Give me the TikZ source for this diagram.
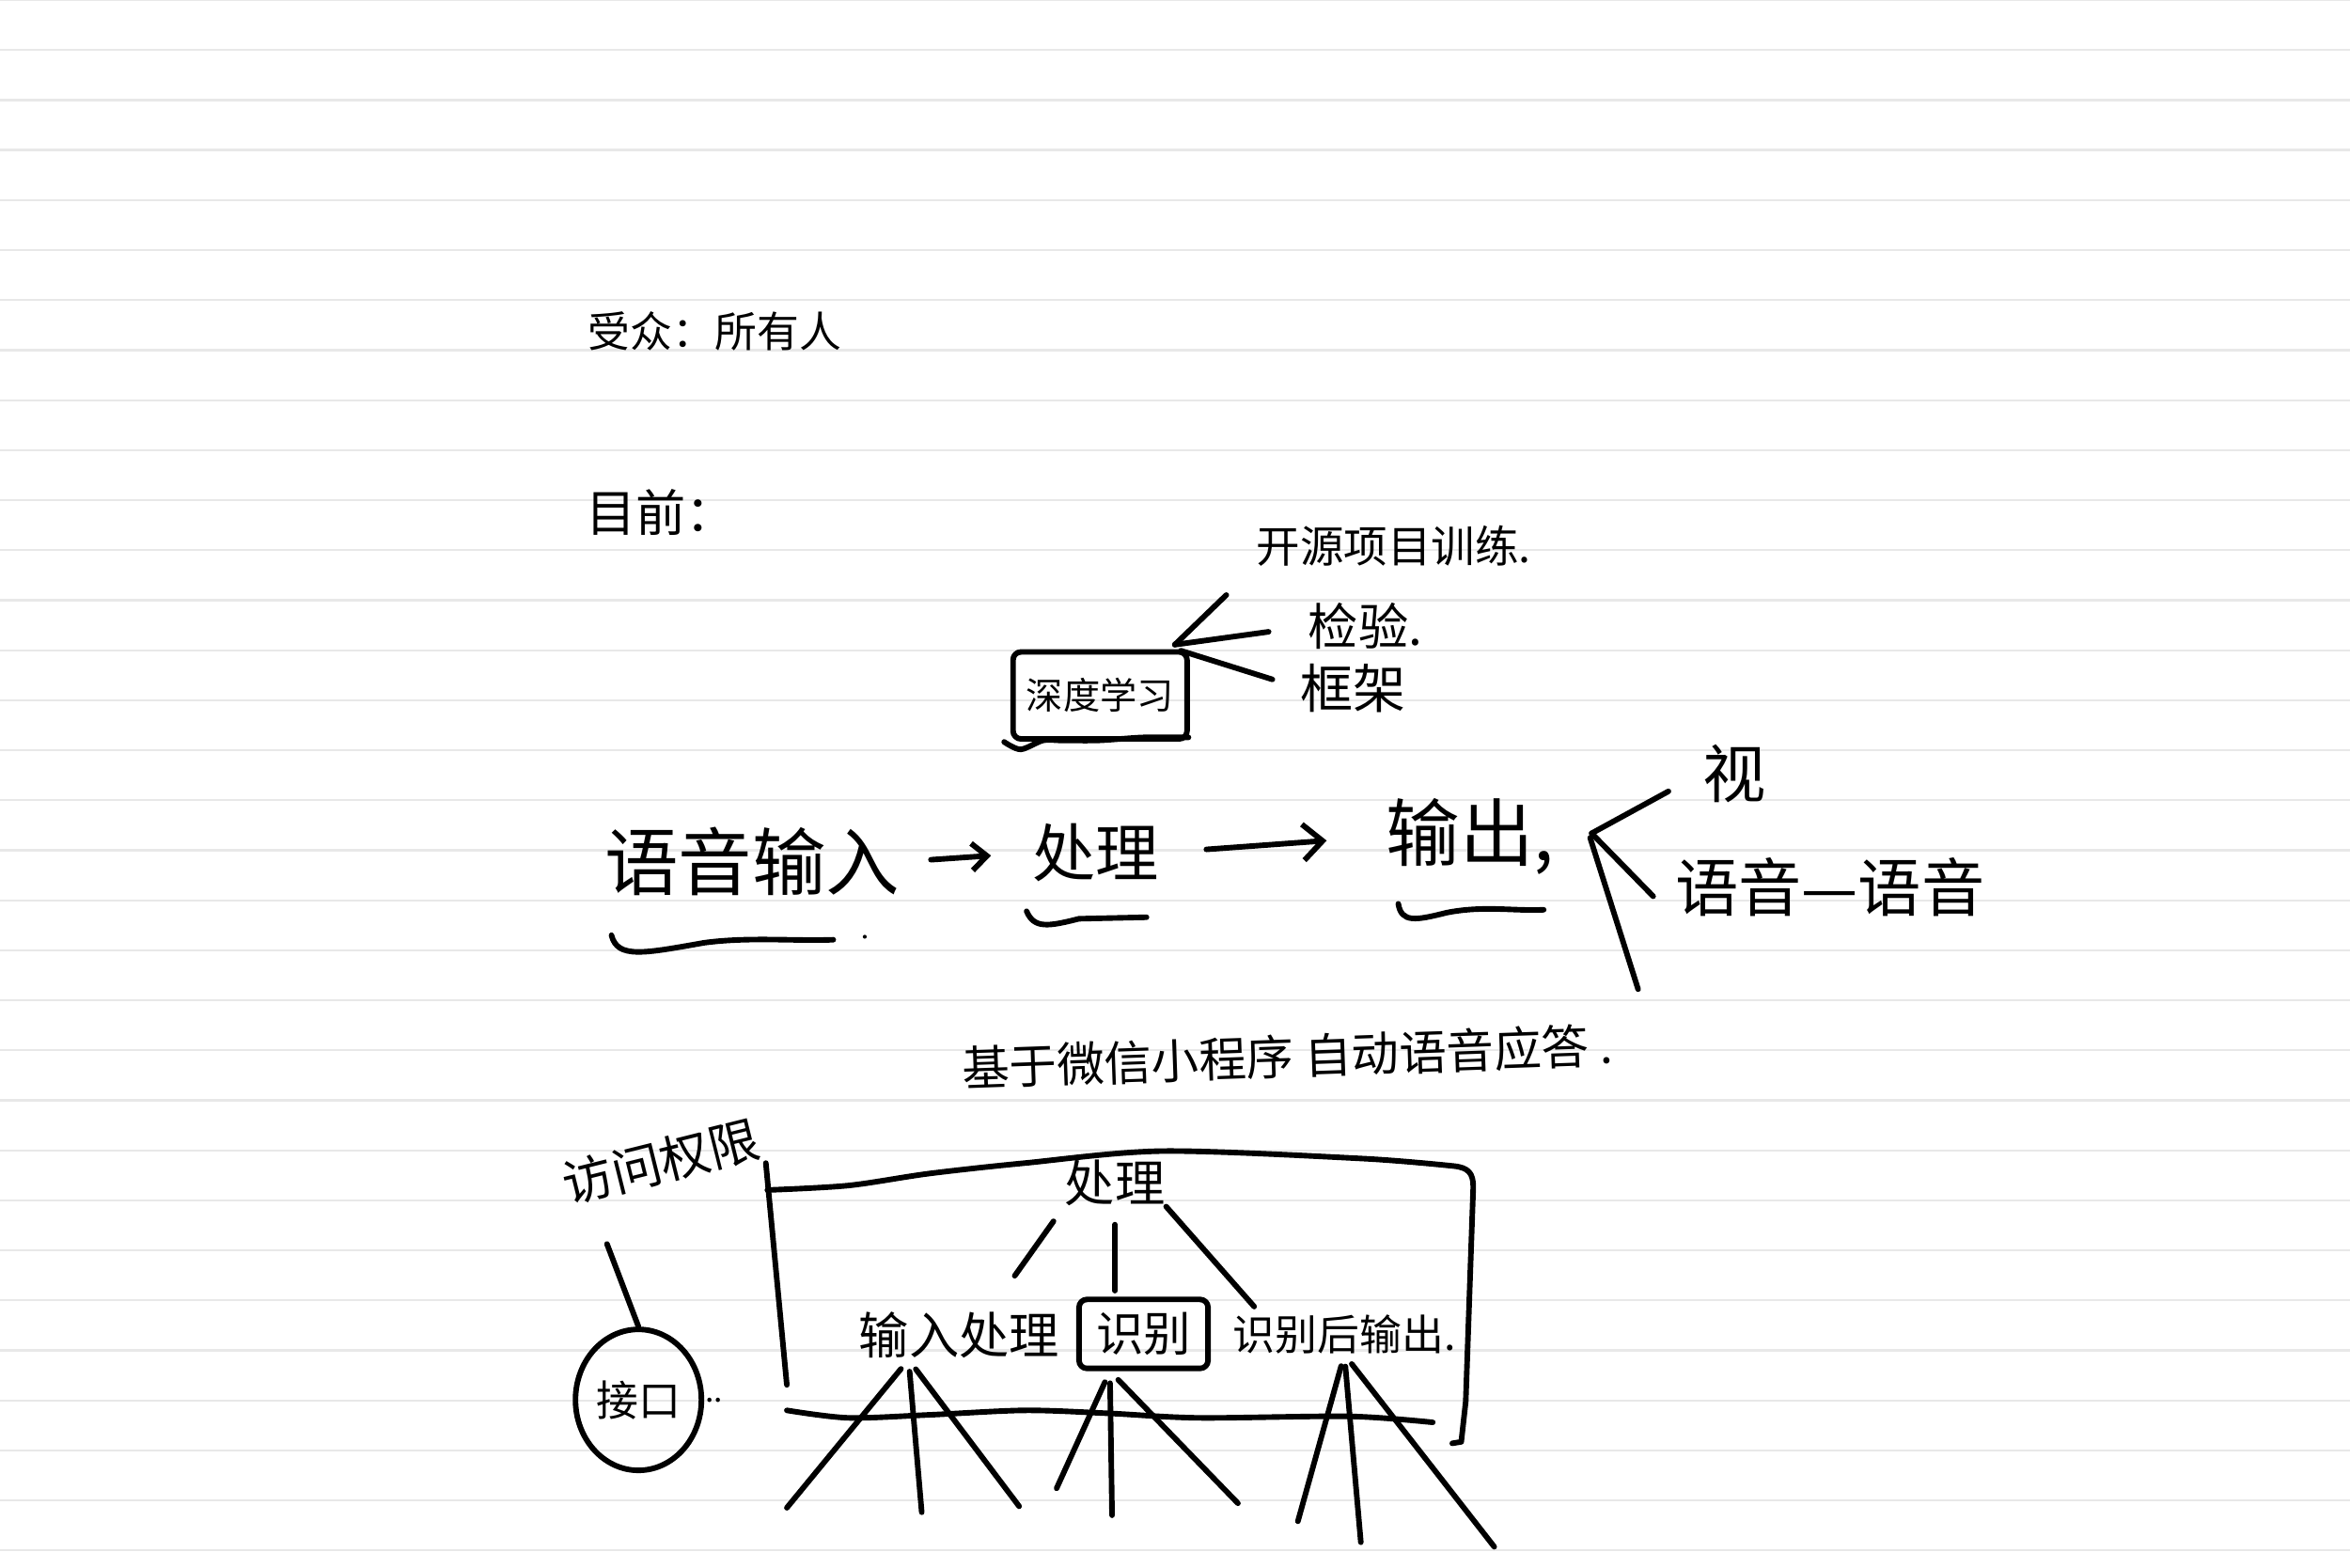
\documentclass[tikz,border=0pt]{standalone}
\usepackage{fontspec}
\setmainfont{Noto Sans CJK SC}
\usetikzlibrary{positioning,calc,shapes.geometric,arrows.meta}
\definecolor{ruleline}{RGB}{232,232,232}
\newcommand{\hsz}[1]{\fontsize{#1}{#1}\selectfont}
\tikzset{ink/.style={line width=1.05pt,line cap=round,line join=round},
         note/.style={inner sep=0pt},
         hand box/.style={draw,ink,rounded corners=1.5pt,inner sep=0pt},}

\begin{document}
\begin{tikzpicture}[x=0.01cm,y=-0.01cm]
  \fill[white] (0,0) rectangle (1568,1046);
  \useasboundingbox (0,0) rectangle (1568,1046);
  % ruled paper
  \foreach \k in {0,...,31}
    \draw[ruleline,line width=0.4pt] (0,33.37*\k) -- (1568,33.37*\k);

  % heading notes
  \node[note,font=\hsz{8pt}] (aud) at (477,221) {受众：所有人};
  \node[note,font=\hsz{9.5pt}] (now) at (441,342) {目前：};

  \node[hand box,minimum width=1.16cm,minimum height=0.58cm,font=\hsz{7pt}] (dl) at (734,464) {深度学习};
  \node[note,font=\hsz{8.3pt}] (kaiyuan) at (930,364) {开源项目训练.};
  \node[note,font=\hsz{9.5pt}] (jianyan) at (911,418) {检验.};
  \node[note,font=\hsz{10pt}] (kuangjia) at (903,459) {框架};
  \draw[ink] plot[smooth] coordinates {(670,495) (681,500) (696,494) (708,494) (733,494) (763,492) (793,492)};

  \coordinate (dlc) at ($(dl.north east)+(-10,-3)$);
  \path[ink]
    (dlc) edge[shorten >=2.7mm] (kaiyuan.south west)
    (dlc) edge[shorten >=2.6mm] (jianyan.west)
    ($(dlc)+(4,4)$) edge[shorten >=1.9mm] (kuangjia.west);

  % main flow
  \node[note,font=\hsz{14pt}] (yyin) at (502,575) {语音输入};
  \node[note,font=\hsz{12pt}] (cl1) [right=8.7mm of yyin,yshift=0.6mm] {处理};
  \node[note,font=\hsz{14pt}] (sc) [right=15mm of cl1,yshift=1.1mm] {输出,};

  \path[ink,-{Straight Barb[length=1mm,width=1.8mm]}]
    (yyin.east) edge[shorten <=2mm,shorten >=2.7mm] (cl1.west);
  \path[ink,-{Straight Barb[length=1.3mm,width=2.4mm]}]
    (cl1.east) edge[shorten <=3.1mm,shorten >=3.9mm] (sc.west);

  \draw[ink] (408,624) .. controls (412,640) and (430,636) .. (470,629)
             .. controls (500,625) and (530,628) .. (556,627);
  \fill (577,625) circle (1.3);
  \draw[ink] (685,608) .. controls (690,620) and (700,618) .. (720,613) -- (765,612);
  \draw[ink] (933,603) .. controls (935,616) and (945,614) .. (965,609)
             .. controls (990,604) and (1010,608) .. (1030,607);

  \node[note,font=\hsz{12pt}] (sh) at (1157,516) {视};
  \node[note,font=\hsz{12pt}] (yy2) at (1221,592) {语音—语音};
  \coordinate (fork) at (1062,556);
  \coordinate (forkend) at (1093,660);
  \path[ink]
    (fork) edge[shorten >=2.5mm] (sh.west)
    (fork) edge[shorten >=2mm] (yy2.south west)
    ($(fork)+(-1,3)$) edge (forkend);

  \node[note,font=\hsz{9pt},rotate=2] (title) at (859,705) {基于微信小程序 自动语音应答 .};

  % lower sketch
  \node[note,font=\hsz{9.5pt},rotate=14] (fw) at (441,775) {访问权限};
  \node[ellipse,draw,ink,minimum width=0.84cm,minimum height=0.94cm,inner sep=0pt,font=\hsz{8pt},
        label={[note,font=\hsz{6pt}]east:..}] (jk) at (426,934) {接口};
  \coordinate (fwl) at (405,830);
  \path[ink] (fwl) edge (jk.north);

  \draw[ink] (511,776) -- (525,924);
  \draw[ink] plot[smooth] coordinates {(512,794) (566,791) (620,783) (684,776) (776,768) (909,773) (970,778)}
             .. controls (980,779) and (983,783) .. (983,792) -- (978,935) -- (975,962) -- (969,963);
  \draw[ink] plot[smooth] coordinates {(525,941) (566,946) (620,944) (684,941) (740,943) (800,946) (900,945) (956,949)};

  \node[note,font=\hsz{9.5pt}] (cl2) at (744,789) {处理};
  \node[note,font=\hsz{9.5pt}] (inp) at (640,891) {输入处理};
  \node[hand box,minimum width=0.86cm,minimum height=0.46cm,font=\hsz{9pt}] (sb) at (763,890) {识别};
  \node[note,font=\hsz{8pt}] (shh) at (897,890) {识别后输出.};

  \path[ink]
    (cl2.south west) edge[shorten <=1.2mm,shorten >=2.9mm] ($(inp.north)!0.3!(inp.north east)$)
    (cl2.south) edge[shorten <=1.2mm,shorten >=0.4mm] (cl2.south |- sb.north)
    (cl2.south east) edge[shorten >=0.6mm] ($(shh.north west)!0.25!(shh.north)$);

  \coordinate (r1) at ($(inp.south)!0.5!(inp.south west)$);
  \coordinate (r2) at ($(sb.south)!0.5!(sb.south west)$);
  \coordinate (r3) at (shh.south);
  \foreach \src/\x/\y [count=\i] in {r1/525/1006, r1/615/1009, r1/680/1005,
                                    r2/705/993, r2/742/1011, r2/826/1003,
                                    r3/866/1015, r3/908/1029, r3/997/1032}
  {
    \coordinate (leg\i) at (\x,\y);
    \draw[ink,shorten <=0.8mm] (\src) -- (leg\i);
  }
\end{tikzpicture}
\end{document}
